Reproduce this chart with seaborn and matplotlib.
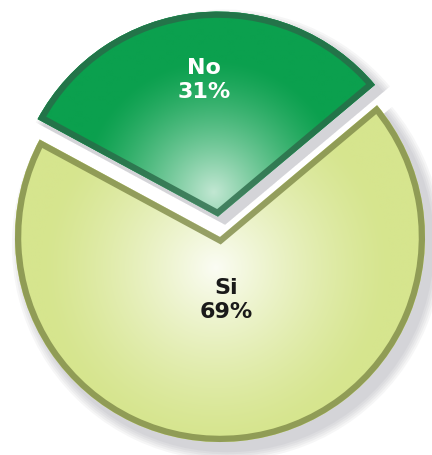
import numpy as np
import seaborn as sns
from matplotlib import pyplot as plt
from matplotlib.patches import Wedge
from matplotlib.colors import to_rgb

labels = ["No", "Si"]
values = [31, 69]
colors = ["#0ba04e", "#d6e58e"]
edge_colors = ["#2a6a48", "#7f8a48"]
text_colors = ["white", "#1a1a1a"]

sns.set_theme(style="white")
plt.rcParams['font.family'] = ['DejaVu Sans']

fig = plt.figure(figsize=(4.32, 4.55), dpi=100)
ax = fig.add_axes([0, 0, 1, 1])

# pixel layout: pie centre at (220, 237), radius 205 px
r_px = 205.0
cx, cy = 220.0, 237.0
xlim = (-cx / r_px, (432 - cx) / r_px)
ylim = (-(455 - cy) / r_px, cy / r_px)

# soft shadow behind the pie
for k in range(5):
    ax.pie(values, startangle=40, explode=[0.1, 0], radius=1.0 + 0.01 * (5 - k),
           center=(0.035, -0.04), colors=["#505060", "#505060"],
           wedgeprops=dict(alpha=0.05, linewidth=0), frame=True)

wedges, texts = ax.pie(
    values, labels=None, startangle=40, explode=[0.1, 0], colors=colors,
    wedgeprops=dict(linewidth=0), frame=True)

ax.set_xlim(*xlim)
ax.set_ylim(*ylim)
ax.set_axis_off()

xx, yy = np.meshgrid(np.linspace(-1.2, 1.2, 400), np.linspace(-1.2, 1.3, 400))
for i, w in enumerate(wedges):
    wx, wy = w.center
    base = np.array(to_rgb(colors[i]))
    if i == 0:
        hx, hy, spread, strength = wx - 0.02, wy + 0.12, 0.65, 0.75
    else:
        hx, hy, spread, strength = wx - 0.02, wy - 0.15, 0.85, 0.9
    d = np.hypot(xx - hx, yy - hy) / spread
    t = np.clip(1 - d, 0, 1) ** 1.3 * strength
    img = base[None, None, :] * (1 - t[..., None]) + t[..., None]
    im = ax.imshow(img, extent=(-1.2, 1.2, -1.2, 1.3), origin="lower",
                   zorder=2, interpolation="bilinear")
    im.set_clip_path(w)
    # bevel rim
    rim = Wedge(w.center, w.r, w.theta1, w.theta2, fill=False,
                edgecolor=edge_colors[i], linewidth=9, alpha=0.8, zorder=3)
    ax.add_patch(rim)
    rim.set_clip_path(w)

ax.set_xlim(*xlim)
ax.set_ylim(*ylim)

# labels
label_r = [0.67, 0.31]
for i, w in enumerate(wedges):
    mid = np.deg2rad((w.theta1 + w.theta2) / 2)
    x = w.center[0] + label_r[i] * np.cos(mid)
    y = w.center[1] + label_r[i] * np.sin(mid)
    ax.text(x, y, f"{labels[i]}\n{values[i]}%", ha="center", va="center",
            color=text_colors[i], fontsize=16, fontweight="bold",
            linespacing=1.25, zorder=5)

fig.savefig("out.png", dpi=100)
